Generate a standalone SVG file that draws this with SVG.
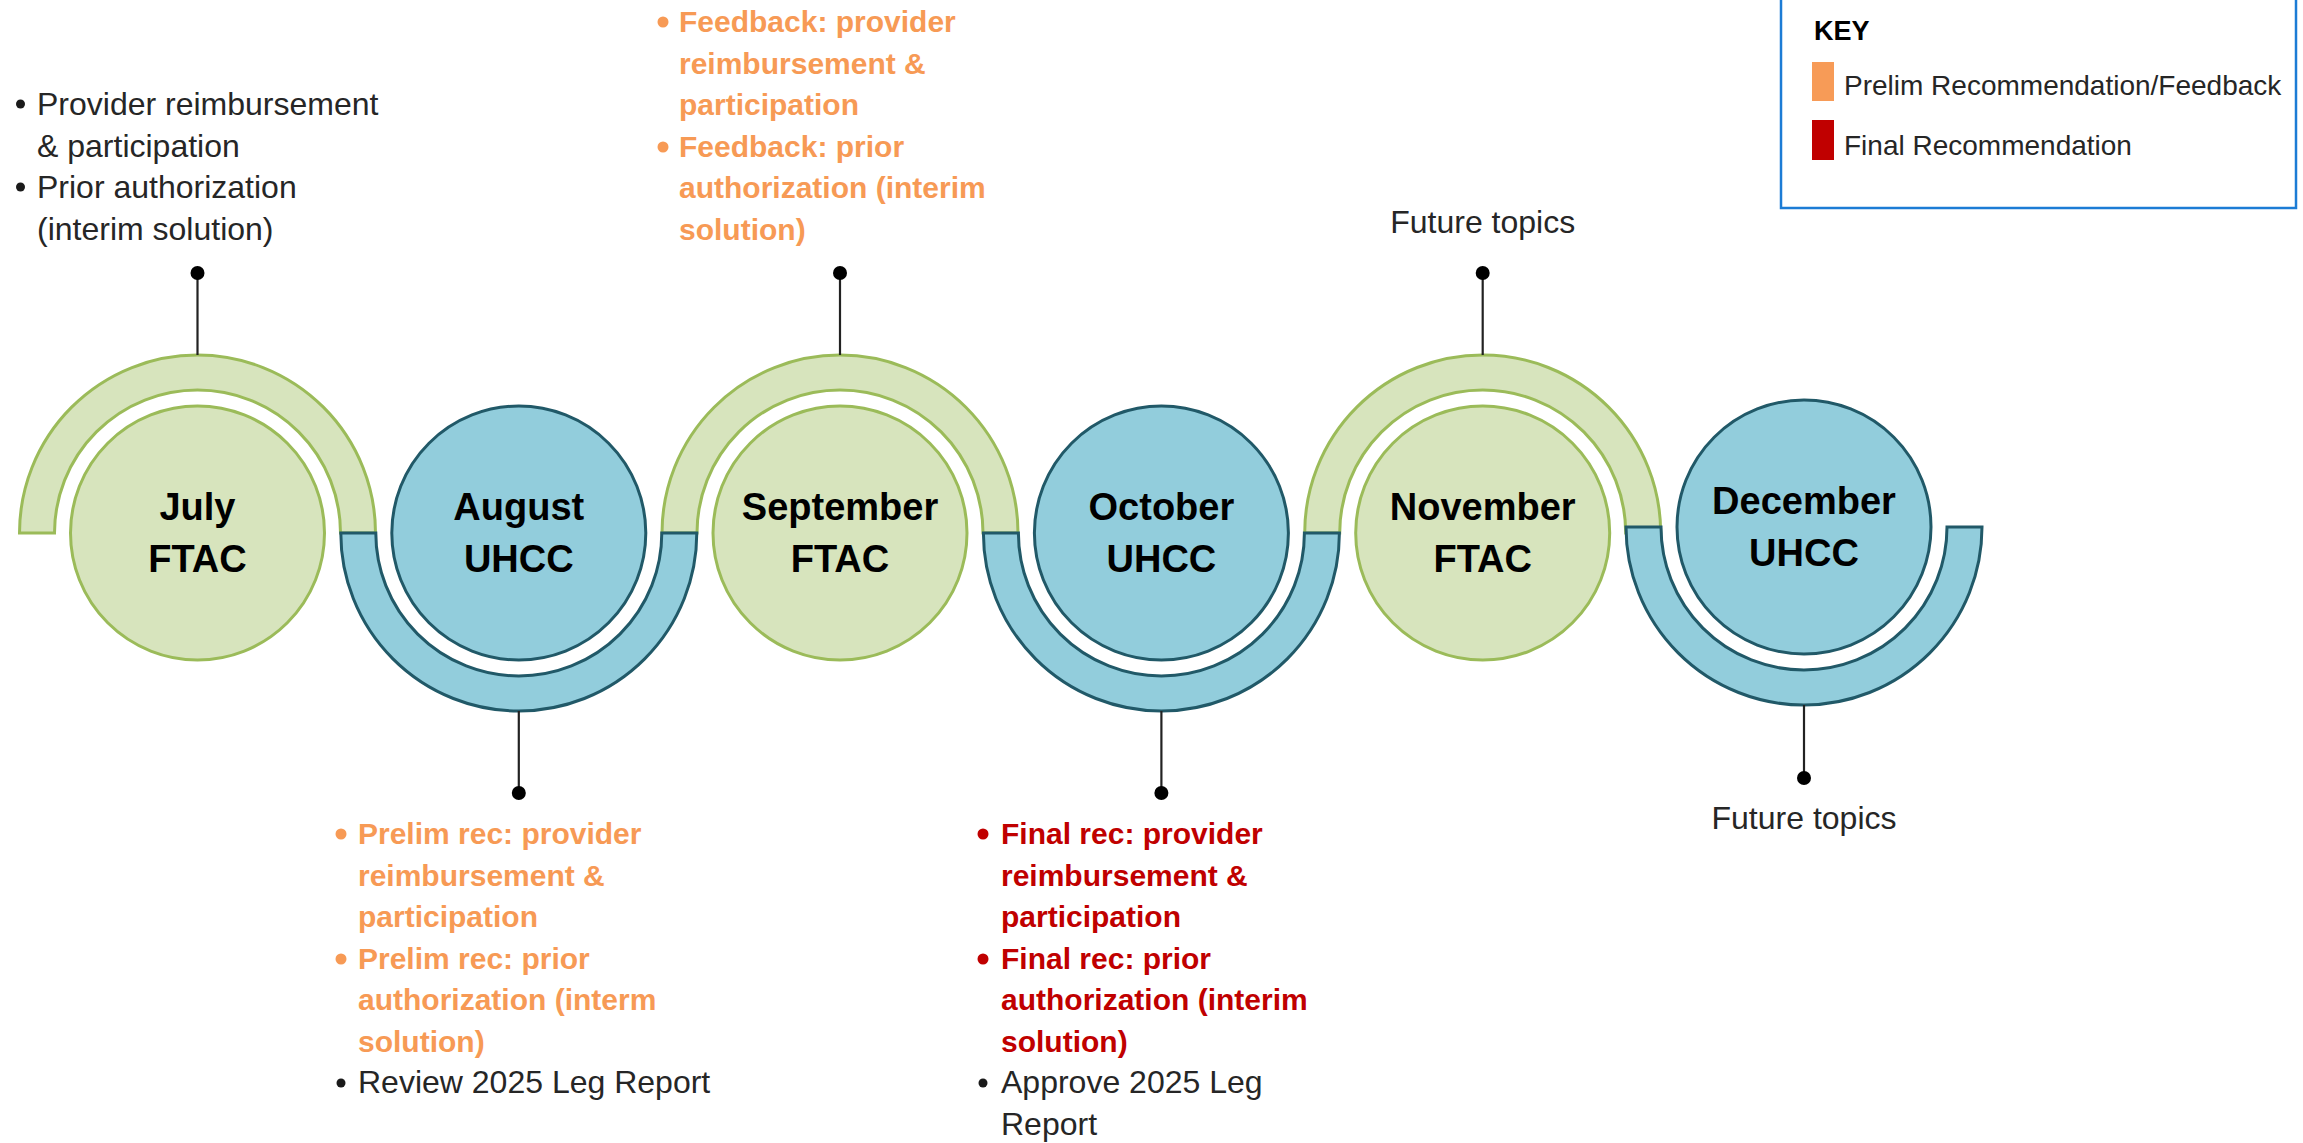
<svg xmlns="http://www.w3.org/2000/svg" width="2303" height="1143" viewBox="0 0 2303 1143">
<style>
.bg{fill:#ffffff}
.green{fill:#D7E4BD;stroke:#9BBB59;stroke-width:3}
.blue{fill:#92CDDC;stroke:#215968;stroke-width:3}
.month{font-family:"Liberation Sans",Arial,sans-serif;font-weight:bold;font-size:38px;fill:#000;text-anchor:middle}
.reg{font-family:"Liberation Sans",Arial,sans-serif;font-size:32px;fill:#262626}
.bold{font-family:"Liberation Sans",Arial,sans-serif;font-weight:bold;font-size:30px}
.or{fill:#F79A55}
.rd{fill:#C00000}
.blk{fill:#1a1a1a}
.conn line{stroke:#222;stroke-width:2.2}
.conn circle{fill:#000}
.keytxt{font-family:"Liberation Sans",Arial,sans-serif;font-size:28px;fill:#262626}
</style>
<rect class="bg" x="0" y="0" width="2303" height="1143"/>

<!-- arcs: green top arcs first, blue bottom arcs on top -->
<g id="arc-july"><path class="green" d="M19.5,533 A178,178 0 0 1 375.5,533 L340.5,533 A143,143 0 0 0 54.5,533 Z"/></g>
<g id="arc-september"><path class="green" d="M662,533 A178,178 0 0 1 1018,533 L983,533 A143,143 0 0 0 697,533 Z"/></g>
<g id="arc-november"><path class="green" d="M1304.7,533 A178,178 0 0 1 1660.7,533 L1625.7,533 A143,143 0 0 0 1339.7,533 Z"/></g>
<g id="arc-august"><path class="blue" d="M340.8,533 A178,178 0 0 0 696.8,533 L661.8,533 A143,143 0 0 1 375.8,533 Z"/></g>
<g id="arc-october"><path class="blue" d="M983.4,533 A178,178 0 0 0 1339.4,533 L1304.4,533 A143,143 0 0 1 1018.4,533 Z"/></g>
<g id="arc-december"><path class="blue" d="M1626,527 A178,178 0 0 0 1982,527 L1947,527 A143,143 0 0 1 1661,527 Z"/></g>

<g id="node-july">
<circle class="green" cx="197.5" cy="533" r="127"/>
<text class="month" x="197.5" y="520">July</text>
<text class="month" x="197.5" y="572">FTAC</text>
</g>
<g id="node-august">
<circle class="blue" cx="518.8" cy="533" r="127"/>
<text class="month" x="518.8" y="520">August</text>
<text class="month" x="518.8" y="572">UHCC</text>
</g>
<g id="node-september">
<circle class="green" cx="840" cy="533" r="127"/>
<text class="month" x="840" y="520">September</text>
<text class="month" x="840" y="572">FTAC</text>
</g>
<g id="node-october">
<circle class="blue" cx="1161.4" cy="533" r="127"/>
<text class="month" x="1161.4" y="520">October</text>
<text class="month" x="1161.4" y="572">UHCC</text>
</g>
<g id="node-november">
<circle class="green" cx="1482.7" cy="533" r="127"/>
<text class="month" x="1482.7" y="520">November</text>
<text class="month" x="1482.7" y="572">FTAC</text>
</g>
<g id="node-december">
<circle class="blue" cx="1804" cy="527" r="127"/>
<text class="month" x="1804" y="514">December</text>
<text class="month" x="1804" y="566">UHCC</text>
</g>

<g id="connectors" class="conn">
<line x1="197.5" y1="273" x2="197.5" y2="355"/><circle cx="197.5" cy="273" r="7"/>
<line x1="518.8" y1="711" x2="518.8" y2="793"/><circle cx="518.8" cy="793" r="7"/>
<line x1="840" y1="273" x2="840" y2="355"/><circle cx="840" cy="273" r="7"/>
<line x1="1161.4" y1="711" x2="1161.4" y2="793"/><circle cx="1161.4" cy="793" r="7"/>
<line x1="1482.7" y1="273" x2="1482.7" y2="355"/><circle cx="1482.7" cy="273" r="7"/>
<line x1="1804" y1="705" x2="1804" y2="778"/><circle cx="1804" cy="778" r="7"/>
</g>

<g id="notes-july">
<circle class="blk" cx="20.5" cy="104" r="4.5"/>
<circle class="blk" cx="20.5" cy="187" r="4.5"/>
<text class="reg" x="37" y="115">Provider reimbursement</text>
<text class="reg" x="37" y="157">&amp; participation</text>
<text class="reg" x="37" y="198">Prior authorization</text>
<text class="reg" x="37" y="240">(interim solution)</text>
</g>

<g id="notes-september">
<circle class="or" cx="663" cy="22" r="5.5"/>
<circle class="or" cx="663" cy="147" r="5.5"/>
<text class="bold or" x="679" y="32">Feedback: provider</text>
<text class="bold or" x="679" y="74">reimbursement &amp;</text>
<text class="bold or" x="679" y="115">participation</text>
<text class="bold or" x="679" y="157">Feedback: prior</text>
<text class="bold or" x="679" y="198">authorization (interim</text>
<text class="bold or" x="679" y="240">solution)</text>
</g>

<g id="notes-august">
<circle class="or" cx="341" cy="834" r="5.5"/>
<circle class="or" cx="341" cy="959" r="5.5"/>
<circle class="blk" cx="341" cy="1083" r="4.5"/>
<text class="bold or" x="358" y="844">Prelim rec: provider</text>
<text class="bold or" x="358" y="886">reimbursement &amp;</text>
<text class="bold or" x="358" y="927">participation</text>
<text class="bold or" x="358" y="969">Prelim rec: prior</text>
<text class="bold or" x="358" y="1010">authorization (interm</text>
<text class="bold or" x="358" y="1052">solution)</text>
<text class="reg" x="358" y="1093">Review 2025 Leg Report</text>
</g>

<g id="notes-october">
<circle class="rd" cx="983" cy="834" r="5.5"/>
<circle class="rd" cx="983" cy="959" r="5.5"/>
<circle class="blk" cx="983" cy="1083" r="4.5"/>
<text class="bold rd" x="1001" y="844">Final rec: provider</text>
<text class="bold rd" x="1001" y="886">reimbursement &amp;</text>
<text class="bold rd" x="1001" y="927">participation</text>
<text class="bold rd" x="1001" y="969">Final rec: prior</text>
<text class="bold rd" x="1001" y="1010">authorization (interim</text>
<text class="bold rd" x="1001" y="1052">solution)</text>
<text class="reg" x="1001" y="1093">Approve 2025 Leg</text>
<text class="reg" x="1001" y="1135">Report</text>
</g>

<g id="notes-november">
<text class="reg" x="1482.7" y="233" text-anchor="middle">Future topics</text>
</g>
<g id="notes-december">
<text class="reg" x="1804" y="829" text-anchor="middle">Future topics</text>
</g>

<g id="key">
<rect x="1781" y="-3" width="515" height="211" fill="#fff" stroke="#1C7CD5" stroke-width="2.5"/>
<text x="1814" y="40" font-family="Liberation Sans, Arial, sans-serif" font-weight="bold" font-size="27" fill="#000">KEY</text>
<rect x="1812" y="62" width="22" height="39" fill="#F79B57"/>
<rect x="1812" y="120" width="22" height="40" fill="#C00000"/>
<text class="keytxt" x="1844" y="95">Prelim Recommendation/Feedback</text>
<text class="keytxt" x="1844" y="155">Final Recommendation</text>
</g>
</svg>
